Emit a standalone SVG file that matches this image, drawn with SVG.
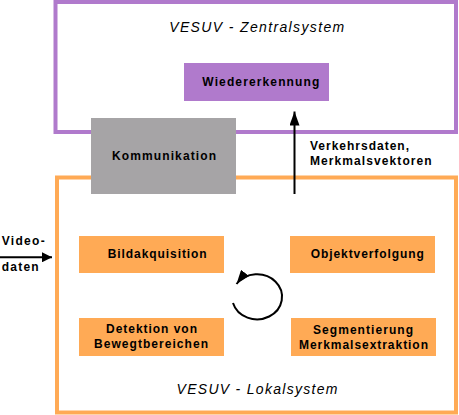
<svg xmlns="http://www.w3.org/2000/svg" width="459" height="415" viewBox="0 0 459 415">
<defs>
<style>
.frameP{fill:none;stroke:#b07acc;stroke-width:4}
.frameO{fill:none;stroke:#ffaa55;stroke-width:4}
.purple{fill:#b07acc}
.orange{fill:#ffaa55}
.gray{fill:#a6a4a6}
.lbl{font-family:"Liberation Sans",Arial,sans-serif;font-size:12px;font-weight:bold;fill:#000}
.title{font-family:"Liberation Sans",Arial,sans-serif;font-size:14px;font-style:italic;fill:#000}
.conn{stroke:#000;stroke-width:2;fill:none}
</style>
<marker id="ah" viewBox="0 0 10 10" refX="10" refY="5" markerWidth="10" markerHeight="10" markerUnits="userSpaceOnUse" orient="auto">
<path d="M0,0 L10,5 L0,10 z" fill="#000"/>
</marker>
<marker id="ahBig" viewBox="0 0 14 10" refX="14" refY="5" markerWidth="14" markerHeight="10" markerUnits="userSpaceOnUse" orient="auto">
<path d="M0,0 L14,5 L0,10 z" fill="#000"/>
</marker>
</defs>
<rect width="459" height="415" fill="#fff"/>
<g id="zentralsystem">
<rect class="frameP" x="55.5" y="2" width="400.5" height="130"/>
<text class="title" x="256.7" y="31.5" text-anchor="middle" textLength="175" lengthAdjust="spacing">VESUV - Zentralsystem</text>
</g>
<g id="lokalsystem">
<rect class="frameO" x="57" y="177.5" width="399" height="235"/>
<text class="title" x="257" y="394" text-anchor="middle" textLength="161" lengthAdjust="spacing">VESUV - Lokalsystem</text>
</g>
<g id="wiedererkennung">
<rect class="purple" x="184" y="63" width="145" height="38"/>
<text class="lbl" x="260.8" y="86" text-anchor="middle" textLength="117" lengthAdjust="spacing">Wiedererkennung</text>
</g>
<g id="kommunikation">
<rect class="gray" x="91" y="118" width="145" height="76"/>
<text class="lbl" x="164" y="160" text-anchor="middle" textLength="104" lengthAdjust="spacing">Kommunikation</text>
</g>
<g id="bildakquisition">
<rect class="orange" x="79" y="236" width="145" height="37"/>
<text class="lbl" x="157.2" y="258" text-anchor="middle" textLength="99" lengthAdjust="spacing">Bildakquisition</text>
</g>
<g id="objektverfolgung">
<rect class="orange" x="290" y="236" width="145" height="37"/>
<text class="lbl" x="367.3" y="258" text-anchor="middle" textLength="113" lengthAdjust="spacing">Objektverfolgung</text>
</g>
<g id="detektion">
<rect class="orange" x="79" y="318" width="145" height="38"/>
<text class="lbl" x="151.5" y="333" text-anchor="middle" textLength="91" lengthAdjust="spacing">Detektion von</text>
<text class="lbl" x="151" y="347.5" text-anchor="middle" textLength="114" lengthAdjust="spacing">Bewegtbereichen</text>
</g>
<g id="segmentierung">
<rect class="orange" x="291" y="318" width="145" height="38"/>
<text class="lbl" x="363" y="334" text-anchor="middle" textLength="100" lengthAdjust="spacing">Segmentierung</text>
<text class="lbl" x="363.5" y="348.5" text-anchor="middle" textLength="129" lengthAdjust="spacing">Merkmalsextraktion</text>
</g>
<g id="labels">
<text class="lbl" x="310" y="150" textLength="99" lengthAdjust="spacing">Verkehrsdaten,</text>
<text class="lbl" x="310" y="165" textLength="121.7" lengthAdjust="spacing">Merkmalsvektoren</text>
<text class="lbl" x="1.7" y="245" textLength="43" lengthAdjust="spacing">Video-</text>
<text class="lbl" x="1.7" y="271" textLength="37" lengthAdjust="spacing">daten</text>
</g>
<g id="connectors">
<line class="conn" x1="294.5" y1="194" x2="294.5" y2="111.5" marker-end="url(#ahBig)"/>
<line class="conn" x1="0" y1="257.3" x2="52" y2="257.3" marker-end="url(#ah)"/>
<path class="conn" d="M233,303 A25,22.5 0 1 0 236.5,284" marker-end="url(#ahBig)"/>
</g>
</svg>
